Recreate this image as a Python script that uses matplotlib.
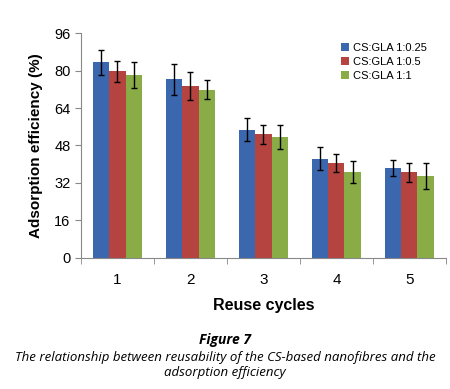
import numpy as np
import matplotlib
matplotlib.use("Agg")
import matplotlib.pyplot as plt

plt.rcParams['font.family'] = ['Liberation Sans', 'DejaVu Sans']

cycles = ['1', '2', '3', '4', '5']
labels = ['CS:GLA 1:0.25', 'CS:GLA 1:0.5', 'CS:GLA 1:1']
vals_025 = [83.6, 76.2, 54.7, 42.4, 38.5]
vals_05 = [79.6, 73.4, 52.7, 40.5, 36.5]
vals_1 = [78.2, 71.8, 51.7, 36.5, 35.0]
err_025 = [5.3, 6.6, 4.9, 4.8, 3.5]
err_05 = [4.3, 5.9, 4.2, 3.9, 4.0]
err_1 = [5.6, 4.0, 5.0, 4.7, 5.4]
colors = ['#3A67AE', '#B5433F', '#8AAC46']

fig = plt.figure(figsize=(4.5, 3.89), dpi=100)
ax = fig.add_axes([0.18, 0.337, 0.811, 0.578])

x = np.arange(len(cycles))
w = 0.22
series = [vals_025, vals_05, vals_1]
errs = [err_025, err_05, err_1]
for i in range(3):
    ax.bar(x + (i - 1) * w, series[i], w, color=colors[i], label=labels[i],
           yerr=errs[i], capsize=2.5, error_kw=dict(elinewidth=1, capthick=1, ecolor='black'),
           zorder=2)

ax.set_xlim(-0.5, 4.5)
ax.set_ylim(0, 96)
ax.set_yticks(np.arange(0, 97, 16))
ax.set_xticks(x)
ax.set_xticklabels(cycles, fontsize=11)
ax.set_xticks(np.arange(-0.5, 5, 1), minor=True)
ax.tick_params(axis='x', which='major', length=0, pad=11)
ax.tick_params(axis='x', which='minor', length=4, color='#888888')
ax.tick_params(axis='y', length=4, color='#888888', labelsize=10.5)
for s in ['top', 'right']:
    ax.spines[s].set_visible(False)
ax.spines['left'].set_color('#888888')
ax.spines['bottom'].set_color('#888888')

ax.set_ylabel('Adsorption efficiency (%)', fontsize=11, fontweight='bold', labelpad=8)
ax.set_xlabel('Reuse cycles', fontsize=11.5, fontweight='bold', labelpad=8)

ax.legend(loc='upper right', bbox_to_anchor=(0.975, 1.0), frameon=False, fontsize=8,
          handlelength=0.7, handleheight=0.7, handletextpad=0.4, labelspacing=0.35)

fig.text(0.5, 0.126, 'Figure 7', ha='center', va='center', fontsize=10, fontweight='bold',
         style='italic', family='Open Sans')
fig.text(0.5, 0.062, 'The relationship between reusability of the CS-based nanofibres and the\nadsorption efficiency',
         ha='center', va='center', fontsize=9.5, style='italic', family='Open Sans', linespacing=1.2)

fig.savefig('out.png', dpi=100)
